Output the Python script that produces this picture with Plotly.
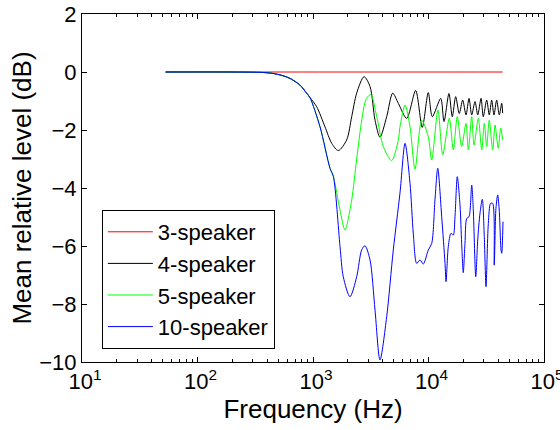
import plotly.graph_objects as go

# ---- data ----
series_names = ["3-speaker", "4-speaker", "5-speaker", "10-speaker"]
series_colors = ["#ff0000", "#000000", "#00ff00", "#0000ff"]

freq_3 = [53, 1000, 10000, 43880]
db_3 = [0, 0, 0, 0]

freq_common = [53, 191, 315, 384, 451, 540, 632, 771, 881, 941]
db_common = [0, 0, -0.01, -0.02, -0.05, -0.12, -0.22, -0.45, -0.73, -0.88]

freq_4 = [1077, 1270, 1452, 1656, 1958, 2163, 2389, 2765, 3117, 3443, 3802, 4345,
          4898, 5480, 6475, 7745, 8831, 9954, 10790, 12760, 13620, 15040, 16070,
          17190, 18460, 19770, 21120, 22430, 23660, 25290, 26680, 28510, 29790,
          31910, 33570, 35240, 36900, 38910, 41020, 43050, 43880]
db_4 = [-1.2, -1.89, -2.46, -2.71, -2.34, -1.54, -0.73, -0.16, -0.5, -1.66, -2.25, -1.54,
        -0.73, -1.08, -1.6, -0.64, -1.91, -0.71, -1.54, -0.91, -1.71, -0.74, -1.54,
        -0.85, -1.43, -0.97, -1.48, -0.91, -1.48, -1.02, -1.48, -0.91, -1.54,
        -0.97, -1.48, -0.97, -1.48, -0.97, -1.48, -1.08, -1.42]

freq_shared_5_10 = [1150, 1403, 1500]
db_shared_5_10 = [-1.89, -3.32, -3.6]

freq_5 = [1714, 1892, 2163, 2389, 2655, 2876, 3162, 3565, 4064, 4800, 5480, 5665,
          6266, 6918, 7640, 8730, 9954, 10660, 12080, 13280, 15140, 16400, 17750,
          19370, 21120, 22130, 23660, 24780, 26990, 28900, 30410, 31910, 33570,
          35970, 37670, 40180, 42170, 43880]
db_5 = [-4.76, -5.45, -4.41, -3.0, -1.6, -0.95, -0.77, -1.54, -2.57, -3.06, -2.34, -1.89,
        -1.14, -1.89, -3.35, -1.66, -2.23, -3.03, -1.31, -2.85, -1.6, -2.69, -1.54,
        -2.57, -1.77, -2.69, -1.54, -2.52, -1.6, -2.69, -1.77, -2.57, -1.66,
        -2.69, -1.83, -2.63, -1.94, -2.34]

freq_10 = [1714, 1828, 2090, 2389, 2636, 2818, 3117, 3443, 3802, 4345, 4955, 5665,
           6266, 6918, 7383, 7900, 8440, 9020, 9954, 10660, 11380, 12020, 13010,
           13900, 14190, 14840, 15660, 16400, 16960, 17750, 18750, 19370, 20000,
           20700, 21430, 22430, 23660, 24430, 25650, 26680, 27920, 29240, 30410,
           31480, 32960, 34510, 35970, 37070, 38370, 39720, 41020, 42460, 43050, 44160]
db_10 = [-6.02, -7.06, -7.75, -7.06, -6.14, -5.99, -6.48, -8.21, -9.93, -8.44, -6.14, -4.17,
         -2.46, -3.84, -5.56, -6.6, -6.48, -6.62, -6.14, -5.91, -4.41, -3.32, -4.99,
         -6.6, -7.23, -6.02, -5.56, -5.62, -4.99, -3.61, -4.6, -5.91, -6.92,
         -5.91, -5.05, -4.99, -3.9, -4.76, -7.06, -5.79, -4.87, -4.39, -5.68,
         -7.4, -5.22, -4.53, -4.53, -6.66, -4.7, -4.24, -4.8, -6.14, -6.25, -5.16]

x_tick_vals = [10, 100, 1000, 10000, 100000]
x_tick_text = ["10<sup>1</sup>", "10<sup>2</sup>", "10<sup>3</sup>", "10<sup>4</sup>", "10<sup>5</sup>"]
y_tick_vals = [-10, -8, -6, -4, -2, 0, 2]

# ---- build traces ----
xs = [
    freq_3,
    freq_common + freq_4,
    freq_common + freq_shared_5_10 + freq_5,
    freq_common + freq_shared_5_10 + freq_10,
]
ys = [
    db_3,
    db_common + db_4,
    db_common + db_shared_5_10 + db_5,
    db_common + db_shared_5_10 + db_10,
]

fig = go.Figure()
for name, color, x, y in zip(series_names, series_colors, xs, ys):
    fig.add_trace(go.Scatter(
        x=x, y=y, name=name, mode="lines",
        line=dict(color=color, width=1, shape="spline", smoothing=0.8),
    ))

minor_vals = [m * 10 ** e for e in range(1, 5) for m in range(2, 10)]

font_family = "Liberation Sans, Arial, sans-serif"
fig.update_layout(
    width=560, height=430,
    margin=dict(l=82, r=16, t=14, b=68, autoexpand=False),
    paper_bgcolor="white", plot_bgcolor="white",
    font=dict(family=font_family, size=22, color="black"),
    showlegend=True,
    legend=dict(
        x=0.043, y=0.4368, xanchor="left", yanchor="top",
        bgcolor="white", bordercolor="black", borderwidth=1,
        font=dict(size=22), tracegroupgap=0, itemwidth=45,
    ),
    xaxis=dict(
        type="log", range=[1, 5], automargin=False,
        tickmode="array", tickvals=x_tick_vals, ticktext=x_tick_text,
        ticklabeloverflow="allow", ticklabelshift=3,
        ticks="inside", ticklen=5, tickcolor="black",
        showline=True, linecolor="black", linewidth=1, mirror="ticks",
        showgrid=False, zeroline=False,
        minor=dict(ticks="inside", ticklen=3, tickcolor="black",
                   tickmode="array", tickvals=minor_vals, showgrid=False),
        title=dict(text="Frequency (Hz)", standoff=6),
    ),
    yaxis=dict(
        range=[-10, 2], tickmode="array", tickvals=y_tick_vals, automargin=False,
        ticklabeloverflow="allow",
        ticks="inside", ticklen=5, tickcolor="black",
        showline=True, linecolor="black", linewidth=1, mirror="ticks",
        showgrid=False, zeroline=False,
        title=dict(text="Mean relative level (dB)", standoff=0),
    ),
)

fig.write_html("out.html")
